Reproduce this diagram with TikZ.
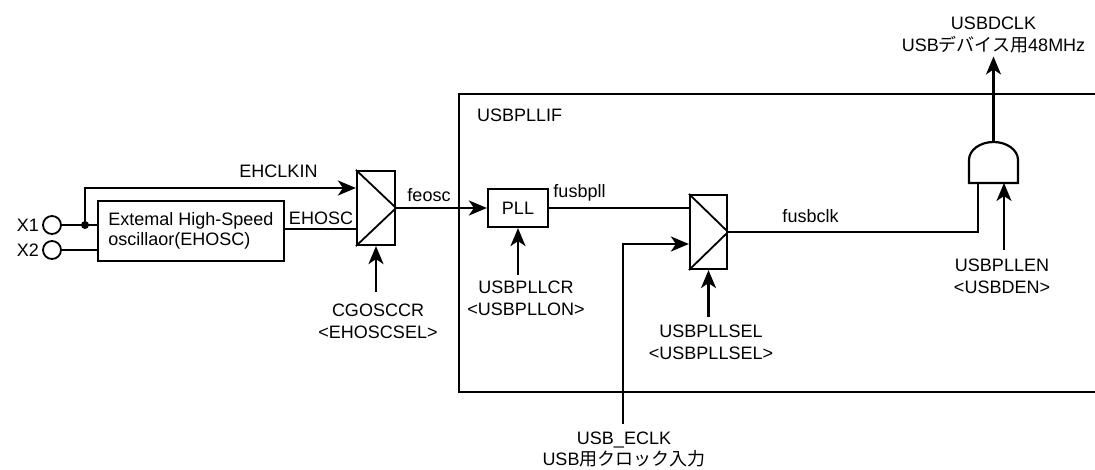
\documentclass[tikz,border=0pt]{standalone}
\usepackage{fontspec}
\setmainfont{Liberation Sans}
\newfontfamily\jpfont{Noto Sans CJK JP}
\usetikzlibrary{arrows.meta}
\begin{document}
\begin{tikzpicture}[x=1pt,y=-1pt,
  every node/.style={font=\fontsize{18}{22}\selectfont, inner sep=0pt},
  thickln/.style={line width=2.2pt},
  thinln/.style={line width=1.4pt},
  arr/.style={line width=2.2pt, -{Stealth[length=18pt,width=15pt,inset=5pt]}},
  blk/.style={draw, line width=2.2pt, rectangle},
  muxbox/.style={draw, line width=2.2pt, rectangle, minimum width=38pt, minimum height=74pt},
  pin/.style={draw, line width=1.8pt, circle, minimum size=18pt},
  lbl/.style={align=center, anchor=north},
  sig/.style={anchor=base}]
\useasboundingbox (0,0) rectangle (1095,470);

% enclosing USBPLLIF block (open to the right)
\draw[line width=2.8pt] (1095,94) -- (459,94) -- (459,392) -- (1095,392);
\node[anchor=base west] (ifname) at (477,122) {USBPLLIF};

% pins
\node[pin] (x1) at (52,225) {};
\node[pin] (x2) at (52,250) {};
\node[anchor=base east] (x1t) at (39,232) {X1};
\node[anchor=base east] (x2t) at (39,257) {X2};

% oscillator
\node[blk, minimum width=186pt, minimum height=60pt, align=left,
      font=\fontsize{18}{20}\selectfont] (osc) at (191,231)
      {Extemal High-Speed\\oscillaor(EHOSC)};
\node[circle, fill, minimum size=8pt] (dot) at (85,225) {};

% mux 1
\node[muxbox] (m1) at (376,208) {};
\draw[line width=1.8pt] (m1.north west) -- (m1.east) -- (m1.south west);

% PLL
\node[blk, minimum width=60pt, minimum height=38pt] (pll) at (518,208) {PLL};

% mux 2
\node[muxbox, minimum width=37pt] (m2) at (708.5,232) {};
\draw[line width=1.8pt] (m2.north west) -- (m2.east) -- (m2.south west);

% AND gate
\coordinate (gin1) at (978,183);
\coordinate (gin2) at (1004,183);
\coordinate (gout) at (993.5,142);
\draw[line width=2.2pt, fill=white] (969,183) -- (969,160)
  arc[start angle=180, end angle=0, x radius=24.5pt, y radius=18pt]
  -- (1018,183) -- cycle;

% labels
\node[sig] (lehclk) at (278.5,178) {EHCLKIN};
\node[sig] (lehosc) at (321,225) {EHOSC};
\node[sig] (lfeosc) at (429,202) {feosc};
\node[sig] (lfpll) at (579.5,198) {fusbpll};
\node[sig] (lfclk) at (810.5,223) {fusbclk};
\node[lbl] (cg) at (378,303.5) {CGOSCCR\\<EHOSCSEL>};
\node[lbl] (pllcr) at (526,281) {USBPLLCR\\<USBPLLON>};
\node[lbl] (pllsel) at (711,325) {USBPLLSEL\\<USBPLLSEL>};
\node[lbl] (pllen) at (1002,259) {USBPLLEN\\<USBDEN>};
\node[lbl] (dclk) at (993.5,17) {USBDCLK\\USB{\jpfont デバイス用}48MHz};
\node[lbl, font=\fontsize{18}{21}\selectfont] (eclk) at (624,432) {USB\_ECLK\\USB{\jpfont 用クロック入力}};

% connectors
\draw[thickln] (x1.east) -- (x1.east -| osc.west);
\draw[thickln] (x2.east) -- (x2.east -| osc.west);
\draw[arr] (dot.center) |- ([yshift=20pt]m1.west);
\draw[thickln] ([yshift=2pt]osc.east) -- ([yshift=2pt]osc.east -| m1.west);
\draw[arr] (m1.east) -- (pll.west);
\draw[arr] (cg.north -| m1.south) ++(0,-11) -- (m1.south);
\draw[arr] (pllcr.north -| pll.south) ++(0,-6) -- (pll.south);
\draw[thinln] (pll.east) -- (pll.east -| m2.west);
\draw[arr] (eclk.north -| 623,0) ++(0,-8) |- ([yshift=-12pt]m2.west);
\draw[arr] (pllsel.north -| m2.south) ++(0,-8) -- (m2.south);
\draw[thinln] (m2.east) -| (gin1);
\draw[arr] (pllen.north -| gin2) ++(0,-9) -- (gin2);
\draw[arr] (gout) -- ([yshift=-3pt]dclk.south);
\end{tikzpicture}
\end{document}
